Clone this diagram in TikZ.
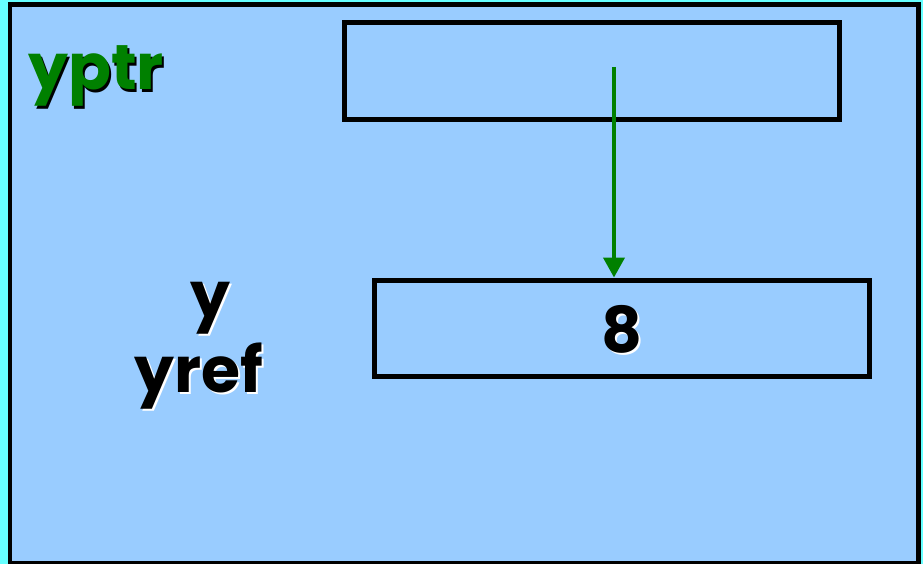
\documentclass[tikz,border=0pt]{standalone}
\usepackage{fontspec}
\setmainfont{Poppins}
\usepackage{xcolor}
\usetikzlibrary{arrows.meta}
\definecolor{skyblue}{HTML}{99CCFF}
\definecolor{aqua}{HTML}{66FFFF}
\definecolor{ptrgreen}{HTML}{008000}

\begin{document}
\begin{tikzpicture}[x=0.02cm, y=-0.02cm, >={Triangle[width=0.42cm, length=0.4cm]},
    cell/.style={draw, line width=0.1cm, minimum width=9.9cm, minimum height=1.94cm, inner sep=0pt},
    bigtext/.style={font=\fontsize{36}{40}\selectfont\bfseries, inner sep=0pt}]
    % Background
    \useasboundingbox (0,0) rectangle (923,564);
    \fill[aqua] (0,0) rectangle (923,564);
    \draw[fill=skyblue, line width=0.1cm] (10,5) rectangle (918,563);

    % Boxes
    \node[cell] (ptrbox) at (592,71) {};
    \node[cell] (valbox) at (622,328.5) {};

    % Labels
    \node[bigtext, text=black, anchor=base west] (yptrshadow) at (30,93) {yptr};
    \node[bigtext, text=ptrgreen, anchor=base west] (yptr) at (28,90) {yptr};
    \node[bigtext, text=white, anchor=base] (yshadow) at (212,319) {y};
    \node[bigtext, anchor=base] (y) at (210,317) {y};
    \node[bigtext, text=white, anchor=base] (yrefshadow) at (201,394) {yref};
    \node[bigtext, anchor=base] (yref) at (199,392) {yref};
    \node[bigtext, text=white, anchor=base] (valshadow) at (624,354) {8};
    \node[bigtext, anchor=base] (val) at (622,352) {8};

    % Edges
    \coordinate (tail) at (614,67);
    \draw[->, ptrgreen, line width=0.08cm] (tail) -- (valbox.north -| tail);
\end{tikzpicture}
\end{document}
